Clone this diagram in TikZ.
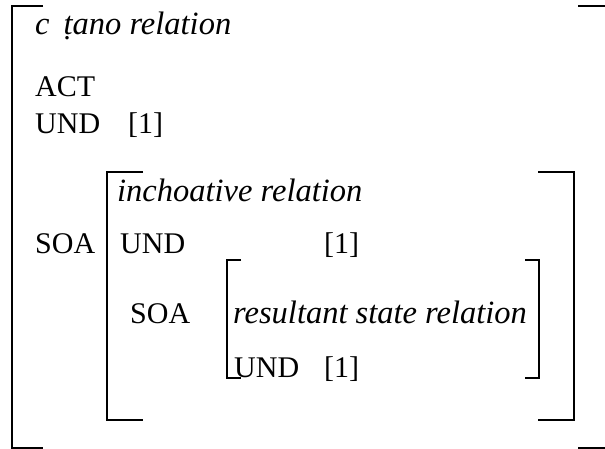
\documentclass[tikz,border=0pt]{standalone}
\usepackage{fontspec}
\setmainfont{Liberation Serif}
\begin{document}
\begin{tikzpicture}[x=1pt,y=-1pt,
  brk/.style={line width=2pt},
  lbl/.style={anchor=base west, inner sep=0pt, font=\fontsize{30}{36}\selectfont},
  ilbl/.style={anchor=base west, inner sep=0pt, font=\fontsize{32.5}{39}\selectfont\itshape}]
\useasboundingbox (0,0) rectangle (605,449);
\clip (0,0) rectangle (605,449);

% outer attribute-value matrix
\draw[brk] (43,6) -- (12,6) -- (12,448) -- (43,448);
\draw[brk] (578,6) -- (612,6) -- (612,448) -- (578,448);

% embedded SOA matrix
\draw[brk] (143,172) -- (107,172) -- (107,420) -- (143,420);
\draw[brk] (538,172) -- (574,172) -- (574,420) -- (538,420);

% innermost SOA matrix
\draw[brk] (241,260) -- (227,260) -- (227,378) -- (241,378);
\draw[brk] (525,260) -- (539,260) -- (539,378) -- (525,378);

% outer entries
\node[ilbl] (title) at (35,35) {c\hspace{14pt}ṭano relation};
\node[lbl] (act) at (35,97) {ACT};
\node[lbl] (und1) at (35,134) {UND};
\node[lbl] (idx1) at (128,134) {[1]};
\node[lbl] (soa1) at (35,253) {SOA};

% embedded entries
\node[ilbl] (inch) at (117,202) {inchoative relation};
\node[lbl] (und2) at (120,253) {UND};
\node[lbl] (idx2) at (324,253) {[1]};
\node[lbl] (soa2) at (130,323) {SOA};

% innermost entries
\node[ilbl] (res) at (233,323) {resultant state relation};
\node[lbl] (und3) at (234,377) {UND};
\node[lbl] (idx3) at (324,377) {[1]};
\end{tikzpicture}
\end{document}
